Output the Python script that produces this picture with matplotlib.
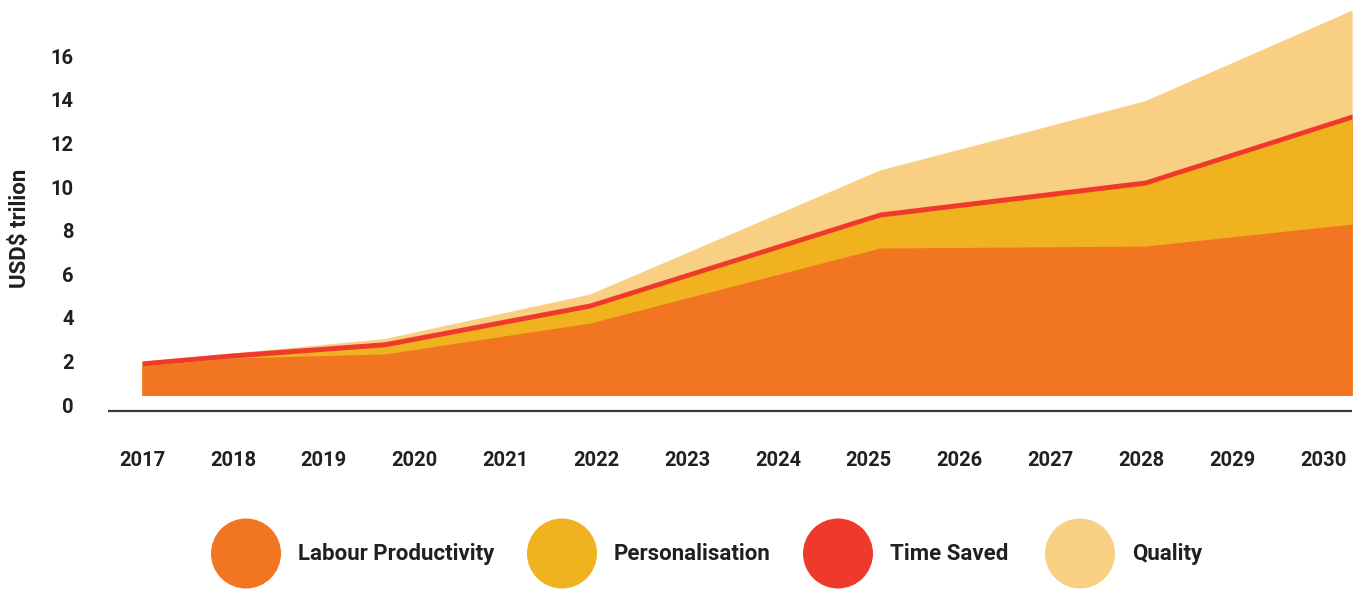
import matplotlib
matplotlib.use("Agg")
import matplotlib.pyplot as plt
from matplotlib.patches import Ellipse
import numpy as np

plt.rcParams['font.family'] = ['Roboto', 'DejaVu Sans']

# data (USD$ trillion, top of each layer)
years = list(range(2017, 2031))
x_pos = [2017.0, 2018.0, 2019.67, 2021.93, 2025.12, 2028.04, 2030.32]
labour = [1.79, 2.16, 2.34, 3.76, 7.20, 7.29, 8.30]
personalisation = [0.00, 0.00, 0.33, 0.69, 1.42, 2.80, 4.82]
time_saved = [0.23, 0.23, 0.23, 0.23, 0.23, 0.23, 0.23]
quality = [0.00, 0.00, 0.15, 0.41, 1.93, 3.64, 4.77]
y_ticks = [0, 2, 4, 6, 8, 10, 12, 14, 16]

series_names = ['Labour Productivity', 'Personalisation', 'Time Saved', 'Quality']
colors = ['#F27521', '#F0B21E', '#EF3A2B', '#F9D083']
text_color = '#231f20'
base = 0.44

fig = plt.figure(figsize=(13.61, 5.89), dpi=100)
ax = fig.add_axes([100 / 1361, 169 / 589, 1261 / 1361, 420 / 589])

# cumulative tops, drawn back to front from the same base to avoid seams
top1 = np.array(labour)
top2 = top1 + np.array(personalisation)
top3 = top2 + np.array(time_saved)
top4 = top3 + np.array(quality)
for top, c in zip([top4, top3, top2, top1], colors[::-1]):
    ax.fill_between(x_pos, base, top, color=c, linewidth=0)

ax.plot([2016.63, 2030.32], [-0.28, -0.28], color='#3a3a3a', lw=1.6,
        solid_capstyle='butt')

ax.set_xlim(2016.538, 2030.418)
ax.set_ylim(-0.688, 18.578)
ax.set_xticks(years)
ax.set_xticklabels([str(y) for y in years])
ax.set_yticks(y_ticks)
ax.set_yticklabels([str(v) for v in y_ticks])
ax.tick_params(axis='x', length=0, pad=22, labelsize=14.5, labelcolor=text_color)
ax.tick_params(axis='y', length=0, pad=19, labelsize=14.5, labelcolor=text_color)
for lab in ax.get_xticklabels() + ax.get_yticklabels():
    lab.set_fontweight('bold')
for s in ax.spines.values():
    s.set_visible(False)

fig.text(20 / 1361, 1 - 228 / 589, 'USD$ trilion', rotation=90, ha='center',
         va='center', fontsize=16, fontweight='bold', color=text_color)

# legend drawn in pixel coordinates
lax = fig.add_axes([0, 0, 1, 1])
lax.set_xlim(0, 1361)
lax.set_ylim(589, 0)
lax.axis('off')
circle_x = [246, 562, 838, 1080]
for name, c, cx in zip(series_names, colors, circle_x):
    lax.add_patch(Ellipse((cx, 553.5), 70, 70, color=c, lw=0))
    lax.text(cx + 52, 554, name, ha='left', va='center', fontsize=16,
             fontweight='bold', color=text_color)

fig.savefig('out.png', dpi=100, facecolor='white')
